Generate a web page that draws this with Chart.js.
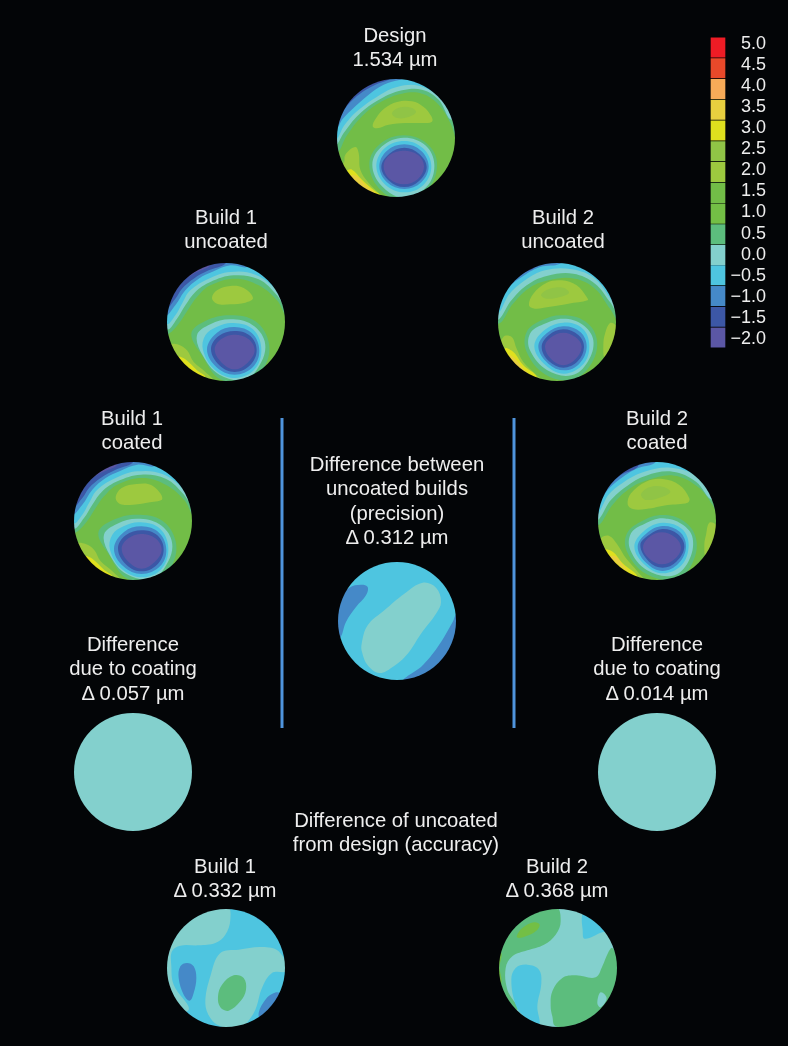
<!DOCTYPE html>
<html lang="en">

<head>
  <meta charset="UTF-8">
  <title>Wavefront maps</title>
  <script src="https://cdn.jsdelivr.net/npm/chart.js"></script>
  <style>
    html,
    body {
      margin: 0;
      padding: 0;
      background: #fff;
    }

    #page {
      position: relative;
      width: 788px;
      height: 1046px;
      background: #030507;
      overflow: hidden;
    }

    canvas {
      position: absolute;
    }

    .disc {
      border-radius: 50%;
      filter: blur(0.5px);
    }

    .label {
      position: absolute;
      transform: translateX(-50%);
      text-align: center;
      white-space: nowrap;
      color: #eeeeee;
      font: 20.3px/24.4px "Liberation Sans", Arial, sans-serif;
    }
  </style>
</head>

<body>
  <div id="page">
    <canvas id="dividers" width="788" height="1046"></canvas>
    <canvas id="scaleBar" width="56" height="333"></canvas>
  </div>
  <script>
    // colour scale, micrometres
    const levels = [5, 4.5, 4, 3.5, 3, 2.5, 2, 1.5, 1, 0.5, 0, -0.5, -1, -1.5, -2];
    const levelColors = ['#ee1c25', '#e9492a', '#f7ab58', '#e8cf3f', '#dfe01e', '#90c446', '#9dc93f', '#72bd47', '#73bf45', '#5cbd7d', '#83d0cd', '#4ec5e0', '#4589c8', '#3c57a6', '#5b57a5'];

    const dividerX = [282, 514];
    const dividerY = [418, 728];

    // contours: [level, x, y, x, y, ...] in crop pixels at 3x
    const designContours = [
      [0.5, 35, 250, 60, 205, 110, 140, 170, 95, 230, 72, 290, 72, 340, 105, 375, 160, 400, 220, 430, 100, 300, 0, 100, 0, 0, 150, 0, 250],
      [0, 30, 225, 55, 190, 100, 135, 165, 88, 230, 62, 290, 60, 340, 90, 380, 150, 430, 100, 300, 0, 100, 0, 0, 150],
      [-0.5, 30, 210, 55, 170, 95, 125, 160, 78, 215, 52, 280, 48, 340, 80, 400, 150, 420, 50, 200, 0, 0, 100],
      [-1, 30, 180, 50, 150, 90, 110, 130, 75, 175, 45, 225, 30, 270, 20, 100, 10, 10, 100],
      [-1.5, 30, 160, 60, 115, 100, 75, 150, 45, 190, 30, 220, 10, 100, 10, 10, 100],
      [-2, 30, 135, 60, 95, 100, 60, 140, 40, 180, 28, 180, 5, 60, 30, 10, 110],
      [2, 142, 170, 152, 146, 178, 116, 215, 97, 260, 95, 295, 112, 318, 140, 320, 156, 290, 160, 240, 160, 190, 165, 155, 176],
      [2.5, 200, 130, 225, 113, 260, 115, 272, 128, 250, 142, 215, 145],
      [2, 55, 285, 60, 255, 90, 232, 100, 250, 105, 300, 130, 340, 165, 375, 180, 395, 100, 395, 40, 340],
      [3, 65, 305, 80, 300, 110, 330, 150, 365, 175, 385, 130, 395, 85, 350],
      [3.5, 78, 318, 95, 320, 125, 350, 150, 372, 130, 385, 100, 360],
      [0.5, 235, 197, 305, 222, 335, 280, 310, 355, 235, 395, 160, 355, 132, 280, 165, 222],
      [0, 235, 204, 300, 227, 327, 285, 305, 350, 238, 385, 170, 350, 141, 285, 170, 230],
      [-0.5, 237, 214, 293, 236, 318, 290, 295, 345, 238, 368, 180, 345, 153, 290, 178, 236],
      [-1, 237, 224, 287, 243, 310, 290, 288, 338, 237, 358, 185, 338, 162, 290, 185, 243],
      [-1.5, 237, 234, 281, 252, 304, 292, 282, 333, 237, 352, 191, 333, 168, 292, 192, 252],
      [-2, 236, 243, 278, 256, 296, 290, 278, 328, 236, 344, 193, 328, 175, 290, 193, 256]
    ];
    const build1UncoatedContours = [
      [0.5, 40, 235, 70, 205, 100, 160, 125, 125, 165, 90, 240, 70, 310, 90, 365, 135, 400, 190, 430, 100, 300, 0, 100, 0, 0, 150, 10, 240],
      [0, 35, 222, 65, 190, 90, 150, 120, 110, 165, 80, 235, 60, 310, 72, 365, 120, 400, 170, 430, 100, 300, 0, 100, 0, 0, 150],
      [-0.5, 35, 205, 60, 180, 80, 145, 105, 105, 160, 70, 225, 50, 300, 58, 370, 110, 400, 160, 420, 50, 200, 0, 0, 100],
      [-1, 30, 180, 60, 150, 90, 105, 130, 70, 175, 48, 225, 30, 275, 35, 270, 10, 100, 10, 10, 100],
      [-1.5, 30, 160, 60, 130, 80, 100, 115, 70, 160, 45, 210, 25, 210, 5, 100, 10, 10, 100],
      [-2, 30, 140, 55, 115, 80, 80, 115, 55, 165, 30, 160, 5, 60, 30, 10, 110],
      [2, 170, 128, 185, 105, 225, 92, 265, 98, 293, 128, 270, 142, 225, 147, 185, 145],
      [2, 40, 270, 70, 268, 95, 285, 115, 320, 150, 350, 175, 380, 90, 385, 40, 320],
      [3, 70, 305, 90, 312, 125, 345, 150, 365, 130, 380, 95, 345],
      [0.5, 225, 180, 300, 198, 340, 260, 330, 330, 285, 375, 195, 372, 140, 300, 108, 235, 150, 197],
      [0, 225, 192, 290, 208, 328, 258, 318, 320, 270, 372, 192, 358, 142, 300, 125, 240, 165, 207],
      [-0.5, 235, 203, 293, 222, 318, 280, 298, 342, 240, 368, 178, 343, 143, 285, 150, 240, 185, 214],
      [-1, 238, 215, 290, 234, 312, 285, 293, 335, 238, 358, 183, 335, 155, 282, 185, 232],
      [-1.5, 238, 227, 285, 242, 304, 285, 284, 330, 238, 350, 192, 330, 167, 282, 190, 242],
      [-2, 238, 238, 279, 251, 298, 285, 277, 322, 238, 342, 199, 322, 178, 282, 198, 251]
    ];
    const build2UncoatedContours = [
      [0.5, 40, 205, 80, 150, 130, 100, 190, 75, 270, 70, 330, 100, 375, 160, 405, 200, 430, 100, 300, 0, 100, 0, 0, 150],
      [0, 35, 195, 75, 140, 125, 90, 185, 62, 265, 55, 330, 85, 375, 140, 405, 180, 430, 100, 300, 0, 100, 0, 0, 150],
      [-0.5, 35, 175, 70, 120, 120, 75, 180, 45, 260, 42, 330, 70, 400, 150, 420, 50, 200, 0, 0, 100],
      [-1, 35, 140, 65, 100, 110, 65, 165, 35, 225, 25, 225, 5, 100, 10, 10, 100],
      [-1.5, 35, 125, 70, 90, 110, 55, 150, 35, 150, 5, 60, 30, 10, 110],
      [2, 132, 150, 145, 115, 185, 82, 230, 75, 275, 90, 305, 125, 308, 135, 250, 145, 190, 155, 150, 160],
      [2.5, 168, 118, 195, 100, 235, 97, 252, 112, 225, 125, 185, 130],
      [2, 55, 245, 80, 245, 95, 280, 115, 320, 150, 355, 175, 380, 100, 385, 40, 300],
      [3, 60, 280, 85, 290, 115, 330, 155, 365, 130, 385, 90, 340],
      [3.5, 72, 300, 90, 310, 115, 340, 130, 355, 115, 355],
      [2, 360, 235, 375, 203, 392, 210, 400, 250, 385, 300, 360, 310, 355, 270],
      [0.5, 232, 180, 300, 198, 335, 250, 322, 320, 265, 372, 182, 358, 125, 290, 125, 230, 170, 195],
      [0, 235, 190, 293, 208, 325, 255, 308, 320, 260, 360, 187, 345, 135, 285, 135, 235, 175, 207],
      [-0.5, 235, 202, 293, 220, 313, 270, 296, 325, 238, 355, 182, 330, 148, 275, 175, 227],
      [-1, 235, 213, 286, 230, 305, 275, 283, 325, 238, 345, 190, 325, 160, 275, 185, 234],
      [-1.5, 235, 222, 280, 239, 297, 275, 278, 318, 235, 337, 192, 318, 170, 275, 192, 239],
      [-2, 235, 232, 272, 246, 290, 275, 271, 312, 235, 330, 199, 312, 180, 275, 198, 246]
    ];
    const build1CoatedContours = [
      [0.5, 40, 235, 72, 205, 102, 160, 127, 125, 167, 90, 242, 70, 312, 90, 367, 135, 402, 190, 430, 100, 300, 0, 100, 0, 0, 150, 10, 240],
      [0, 35, 222, 67, 190, 92, 150, 122, 110, 167, 80, 237, 60, 312, 72, 367, 120, 402, 170, 430, 100, 300, 0, 100, 0, 0, 150],
      [-0.5, 35, 205, 62, 180, 82, 145, 107, 105, 162, 70, 227, 50, 302, 58, 372, 110, 402, 160, 420, 50, 200, 0, 0, 100],
      [-1, 30, 180, 62, 150, 92, 105, 132, 70, 177, 48, 227, 30, 277, 35, 272, 10, 100, 10, 10, 100],
      [-1.5, 30, 160, 62, 130, 82, 100, 117, 70, 162, 45, 212, 25, 212, 5, 100, 10, 10, 100],
      [-2, 30, 140, 57, 115, 82, 80, 117, 55, 167, 30, 162, 5, 60, 30, 10, 110],
      [2, 162, 128, 180, 100, 225, 88, 270, 92, 302, 132, 265, 143, 215, 150, 175, 148],
      [2, 45, 268, 72, 268, 97, 285, 117, 320, 152, 350, 177, 380, 92, 385, 40, 320],
      [3, 72, 305, 92, 312, 127, 345, 152, 365, 132, 380, 97, 345],
      [0.5, 225, 180, 302, 198, 342, 260, 332, 330, 287, 375, 197, 372, 142, 300, 110, 235, 152, 197],
      [0, 227, 192, 292, 208, 330, 258, 320, 320, 272, 372, 194, 358, 144, 300, 127, 240, 167, 207],
      [-0.5, 237, 203, 295, 222, 320, 280, 300, 342, 242, 368, 180, 343, 145, 285, 152, 240, 187, 214],
      [-1, 240, 215, 292, 234, 314, 285, 295, 335, 240, 358, 185, 335, 157, 282, 187, 232],
      [-1.5, 240, 227, 287, 242, 306, 285, 286, 330, 240, 350, 194, 330, 169, 282, 192, 242],
      [-2, 240, 238, 281, 251, 300, 285, 279, 322, 240, 342, 201, 322, 180, 282, 200, 251]
    ];
    const build2CoatedContours = [
      [0.5, 30, 210, 70, 155, 120, 105, 180, 75, 260, 62, 330, 95, 375, 150, 395, 190, 430, 100, 300, 0, 100, 0, 0, 150],
      [0, 25, 198, 65, 140, 115, 95, 175, 62, 255, 50, 325, 80, 375, 135, 420, 100, 300, 0, 100, 0, 0, 150],
      [-0.5, 25, 178, 60, 122, 110, 80, 170, 50, 250, 38, 330, 65, 400, 140, 420, 50, 200, 0, 0, 100],
      [-1, 25, 150, 60, 105, 100, 70, 150, 40, 200, 25, 200, 5, 100, 10, 5, 100],
      [-1.5, 30, 125, 60, 95, 100, 60, 150, 35, 150, 5, 60, 30, 5, 110],
      [2, 120, 148, 130, 115, 175, 80, 225, 72, 275, 90, 305, 130, 300, 143, 240, 150, 175, 162, 135, 162],
      [2.5, 160, 118, 185, 97, 225, 95, 248, 110, 225, 125, 175, 135],
      [2, 40, 250, 65, 243, 90, 270, 115, 310, 150, 350, 170, 380, 80, 380, 30, 290],
      [3, 50, 285, 75, 290, 105, 325, 150, 365, 125, 378, 80, 340],
      [3.5, 65, 305, 85, 305, 110, 335, 125, 352],
      [2, 355, 240, 365, 203, 385, 210, 390, 250, 375, 300, 355, 310, 350, 270],
      [0.5, 225, 180, 288, 198, 325, 250, 316, 320, 268, 372, 177, 358, 118, 290, 118, 235, 165, 197],
      [0, 225, 190, 283, 208, 315, 250, 302, 320, 255, 362, 177, 345, 128, 285, 130, 235, 170, 207],
      [-0.5, 225, 203, 283, 222, 303, 270, 282, 330, 225, 355, 172, 330, 140, 275, 170, 227],
      [-1, 225, 213, 276, 230, 295, 275, 273, 325, 225, 348, 177, 325, 150, 275, 178, 234],
      [-1.5, 225, 222, 270, 237, 290, 275, 266, 320, 225, 338, 184, 320, 158, 270, 185, 239],
      [-2, 222, 232, 261, 246, 280, 278, 261, 312, 222, 328, 186, 312, 166, 278, 185, 246]
    ];
    const precisionContours = [
      [-1, 120, 110, 100, 103, 65, 112, 20, 160, 20, 270, 38, 262, 55, 215, 85, 170, 115, 135],
      [-1, 225, 395, 280, 350, 330, 290, 375, 215, 388, 190, 410, 230, 400, 330, 300, 410],
      [0, 102, 280, 120, 225, 170, 180, 230, 130, 285, 97, 325, 112, 340, 155, 325, 190, 280, 250, 240, 310, 195, 350, 155, 368, 120, 345, 103, 305]
    ];
    const build1DeltaContours = [
      [0, 215, -10, 225, 30, 210, 75, 180, 100, 130, 107, 75, 108, 50, 125, 48, 170, 55, 225, 100, 300, 20, 300, 10, 100, 50, -10],
      [-1, 95, 160, 115, 170, 123, 205, 115, 250, 103, 273, 85, 255, 70, 205, 75, 170],
      [0, 150, 280, 165, 200, 195, 130, 250, 120, 320, 112, 370, 125, 395, 183, 350, 190, 320, 235, 300, 300, 270, 345, 250, 360, 195, 350, 165, 325],
      [0.5, 188, 260, 200, 225, 235, 197, 265, 205, 272, 240, 255, 275, 220, 303, 195, 293],
      [-1, 310, 320, 330, 270, 362, 248, 380, 255, 395, 300, 340, 340],
      [-1, 305, 25, 330, 35, 350, 60, 370, 30, 320, 5]
    ];
    const build2DeltaContours = [
      [0.5, 205, -10, 220, 35, 205, 75, 170, 105, 120, 122, 75, 140, 55, 175, 60, 240, 90, 300, 20, 300, 10, 100, 60, -10],
      [1, 88, 80, 105, 55, 140, 38, 157, 45, 145, 65, 115, 80, 95, 85],
      [1.5, 42, 130, 36, 170, 42, 220, 20, 220, 20, 130],
      [-0.5, 72, 210, 85, 175, 120, 165, 155, 180, 162, 220, 150, 290, 155, 345, 110, 320, 85, 285],
      [-0.5, 285, 15, 300, 10, 360, 65, 345, 68, 292, 87, 286, 60],
      [0.5, 190, 290, 195, 245, 225, 205, 265, 197, 325, 203, 345, 170, 362, 130, 375, 115, 400, 170, 380, 300, 300, 360, 205, 350, 195, 320],
      [0, 330, 280, 340, 248, 358, 265, 340, 293]
    ];

    // base level, contours, crop x, crop y, disc centre in the crop
    const discs = [
      [1.5, designContours, 325, 70, 212, 205],
      [1.5, build1UncoatedContours, 155, 255, 212, 200],
      [1.5, build2UncoatedContours, 485, 255, 216, 200],
      [1.5, build1CoatedContours, 62, 455, 214, 199],
      [1.5, build2CoatedContours, 588, 455, 208, 198],
      [-0.5, precisionContours, 328, 550, 208, 212],
      [0, [], 60, 620, 219, 457],
      [0, [], 584, 620, 219, 457],
      [-0.5, build1DeltaContours, 155, 910, 212, 175],
      [0, build2DeltaContours, 487, 910, 212, 175]
    ];

    const textBlocks = [
      [395, 23, ['Design', '1.534 µm']],
      [226, 205, ['Build 1', 'uncoated']],
      [563, 205, ['Build 2', 'uncoated']],
      [132, 406, ['Build 1', 'coated']],
      [657, 406, ['Build 2', 'coated']],
      [397, 452, ['Difference between', 'uncoated builds', '(precision)', 'Δ 0.312 µm']],
      [133, 632, ['Difference', 'due to coating', 'Δ 0.057 µm']],
      [657, 632, ['Difference', 'due to coating', 'Δ 0.014 µm']],
      [396, 808, ['Difference of uncoated', 'from design (accuracy)']],
      [225, 854, ['Build 1', 'Δ 0.332 µm']],
      [557, 854, ['Build 2', 'Δ 0.368 µm']]
    ];

    const page = document.getElementById('page');
    const colorOf = (level) => levelColors[levels.indexOf(level)];
    const noPlugins = { legend: { display: false }, tooltip: { enabled: false } };

    textBlocks.forEach(([x, y, lines]) => {
      const div = document.createElement('div');
      div.className = 'label';
      div.style.left = x + 'px';
      div.style.top = y + 'px';
      div.innerHTML = lines.join('<br>');
      page.appendChild(div);
    });

    // vertical rules, in page pixels
    new Chart(document.getElementById('dividers'), {
      type: 'scatter',
      data: {
        datasets: dividerX.map((x) => ({
          data: dividerY.map((y) => ({ x: x, y: y })),
          showLine: true,
          borderColor: '#4f94dc',
          borderWidth: 3,
          pointRadius: 0
        }))
      },
      options: {
        responsive: false,
        animation: false,
        plugins: noPlugins,
        scales: {
          x: { display: false, min: 0, max: 788 },
          y: { display: false, min: 0, max: 1046, reverse: true }
        }
      }
    });

    const R = 177; // disc radius in crop pixels

    discs.forEach(([base, contours, cropX, cropY, cx, cy]) => {
      const canvas = document.createElement('canvas');
      canvas.className = 'disc';
      canvas.width = 118;
      canvas.height = 118;
      canvas.style.left = Math.round(cropX + (cx - R) / 3) + 'px';
      canvas.style.top = Math.round(cropY + (cy - R) / 3) + 'px';
      page.appendChild(canvas);

      const box = [[cx - R, cy - R], [cx + R, cy - R], [cx + R, cy + R], [cx - R, cy + R]];
      const datasets = [{
        data: box.map(([x, y]) => ({ x, y })),
        backgroundColor: colorOf(base),
        tension: 0
      }];
      contours.forEach(([level, ...coords]) => {
        const pts = [];
        for (let i = 0; i < coords.length; i += 2) {
          pts.push({ x: coords[i], y: coords[i + 1] });
        }
        // wrap round so the curve closes without a kink
        const closed = [pts[pts.length - 1], ...pts, pts[0], pts[1]];
        datasets.push({ data: closed, backgroundColor: colorOf(level), tension: 0.38 });
      });
      // first dataset has to end up at the bottom
      datasets.forEach((d, i) => {
        d.order = datasets.length - i;
        d.fill = 'shape';
        d.borderWidth = 0;
        d.pointRadius = 0;
        d.capBezierPoints = false;
      });

      new Chart(canvas, {
        type: 'line',
        data: { datasets },
        options: {
          responsive: false,
          animation: false,
          plugins: noPlugins,
          scales: {
            x: { type: 'linear', display: false, min: cx - R, max: cx + R },
            y: { display: false, min: cy - R, max: cy + R, reverse: true }
          }
        }
      });
    });

    // colour scale; the printed labels sit on a slightly tighter spacing than the cells
    const bar = document.getElementById('scaleBar');
    bar.style.left = '710px';
    bar.style.top = '26px';
    new Chart(bar, {
      type: 'bar',
      data: {
        labels: [''],
        datasets: levels.map((v, i) => ({
          data: [[v - 0.25, v + 0.25]],
          backgroundColor: levelColors[i],
          borderColor: 'rgba(0,0,0,0.35)',
          borderWidth: 1,
          barPercentage: 1,
          categoryPercentage: 1
        }))
      },
      options: {
        responsive: false,
        animation: false,
        plugins: noPlugins,
        scales: {
          x: { display: false, stacked: true },
          y: { display: false, min: -2.25, max: 5.25 },
          tickAxis: {
            axis: 'y',
            position: 'right',
            min: -2.22,
            max: 5.17,
            afterBuildTicks: (axis) => { axis.ticks = levels.map((v) => ({ value: v })); },
            afterFit: (axis) => { axis.width = 40; },
            grid: { display: false },
            border: { display: false },
            ticks: {
              autoSkip: false,
              crossAlign: 'far',
              color: '#eeeeee',
              padding: 0,
              font: { family: '"Liberation Sans", Arial, sans-serif', size: 18 },
              callback: (v) => (v < 0 ? '\u2212' : '') + Math.abs(v).toFixed(1)
            }
          }
        }
      }
    });
  </script>
</body>

</html>
